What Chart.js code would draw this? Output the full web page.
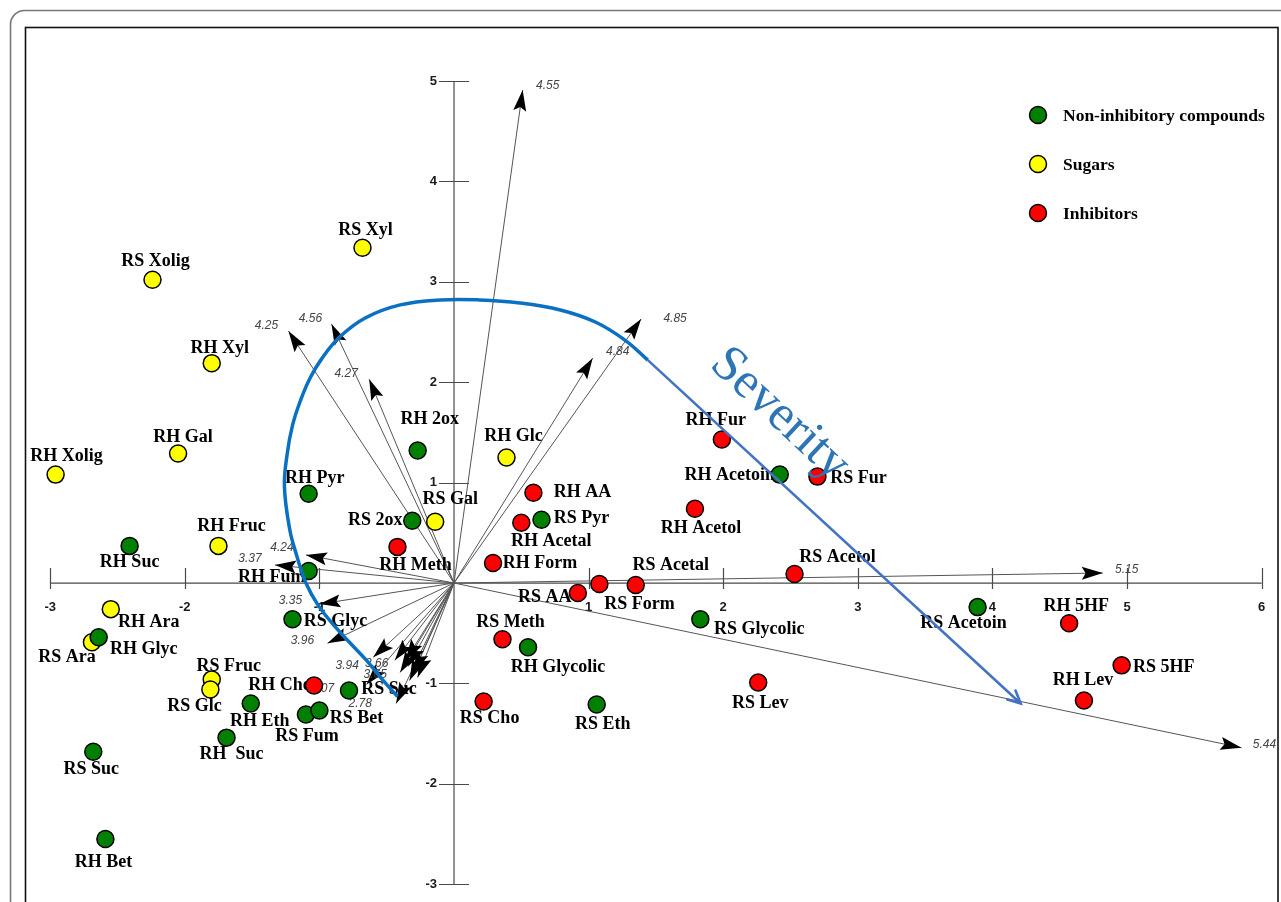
<!DOCTYPE html>
<html>
<head>
<meta charset="utf-8">
<title>PCA biplot – hydrolysate compounds</title>
<script src="https://cdn.jsdelivr.net/npm/chart.js@4.4.1/dist/chart.umd.min.js"></script>
<style>
  html, body { margin: 0; padding: 0; background: #ffffff; }
  canvas { display: block; }
</style>
</head>
<body>
<canvas id="biplot" width="1281" height="902"></canvas>
<script>
// ---- Scores: non-inhibitory compounds ----
const nonInhibNames = ['RH 2ox','RH Pyr','RS 2ox','RH Suc','RH Fum','RS Glyc','RH Glyc','RS Suc','RH Eth','RS Fum',
  'RS Bet','RH  Suc','RS Suc','RH Bet','RH Glycolic','RS Eth','RS Pyr','RH Acetoin','RS Glycolic','RS Acetoin'];
const nonInhibX = [-0.27,-1.08,-0.31,-2.41,-1.08,-1.20,-2.64,-0.78,-1.51,-1.10,
  -1.00,-1.69,-2.68,-2.59,0.55,1.06,0.65,2.42,1.83,3.89];
const nonInhibY = [1.32,0.89,0.62,0.37,0.12,-0.36,-0.54,-1.07,-1.20,-1.31,
  -1.27,-1.54,-1.68,-2.55,-0.64,-1.21,0.63,1.08,-0.36,-0.24];

// ---- Scores: sugars ----
const sugarNames = ['RS Xyl','RS Xolig','RH Xyl','RH Gal','RH Xolig','RH Glc','RS Gal','RH Fruc','RH Ara','RS Ara','RS Fruc','RS Glc'];
const sugarX = [-0.68,-2.24,-1.80,-2.05,-2.96,0.39,-0.14,-1.75,-2.55,-2.69,-1.80,-1.81];
const sugarY = [3.34,3.02,2.19,1.29,1.08,1.25,0.61,0.37,-0.26,-0.59,-0.96,-1.06];

// ---- Scores: inhibitors ----
const inhibNames = ['RH Fur','RS Fur','RH AA','RH Acetal','RH Acetol','RH Meth','RH Form','RS Acetal','RS Form','RS AA',
  'RS Acetol','RS Meth','RH Cho','RS Cho','RS Lev','RH 5HF','RS 5HF','RH Lev'];
const inhibX = [1.99,2.70,0.59,0.50,1.79,-0.42,0.29,1.35,1.08,0.92,2.53,0.36,-1.04,0.22,2.26,4.57,4.96,4.68];
const inhibY = [1.43,1.06,0.90,0.60,0.74,0.36,0.20,-0.02,-0.01,-0.10,0.09,-0.56,-1.02,-1.18,-0.99,-0.40,-0.82,-1.17];

// ---- Loadings (vector tips) and their printed lengths ----
const vectorNames = ['4.55','4.85','4.84','4.25','4.56','4.27','4.24','3.37','3.35','3.96',
  '3.94','3.66','3.65','3.07','2.78','','','','','','5.15','5.44'];
const vectorX = [0.51,1.39,1.03,-1.23,-0.91,-0.63,-1.10,-1.33,-1.00,-0.94,
  -0.60,-0.44,-0.40,-0.65,-0.43,-0.36,-0.34,-0.30,-0.27,-0.33,4.82,5.85];
const vectorY = [4.91,2.63,2.24,2.51,2.58,2.03,0.28,0.18,-0.21,-0.60,
  -0.74,-0.77,-0.89,-1.01,-1.20,-0.77,-0.83,-0.89,-0.94,-0.97,0.10,-1.64];

// ---- Axis ticks ----
const xTicks = [-3,-2,-1,1,2,3,4,5,6];
const yTicks = [-3,-2,-1,1,2,3,4,5];

// ---- "Severity" guide curve, in score units ----
const severityArcX = [-0.42,-0.54,-0.65,-0.77,-0.88,-1.01,-1.10,-1.17,-1.22,-1.26,-1.24,-1.20,-1.14,-1.07,-0.98,
  -0.85,-0.66,-0.40,-0.10,0.19,0.49,0.79,1.05,1.27,1.44];
const severityArcY = [-1.13,-0.95,-0.77,-0.60,-0.44,-0.22,0.00,0.28,0.53,0.96,1.28,1.57,1.82,2.04,2.24,
  2.45,2.64,2.77,2.82,2.82,2.79,2.72,2.60,2.42,2.22];
const severityLineX = [1.44,4.21];
const severityLineY = [2.22,-1.20];

// ---- Label placement (pixel offsets of each text centre from its marker) ----
const nonInhibLabelOffset = [[12,-31],[6,-15],[-37,0],[0,16],[-37,6],[43,2],[45,12],[40,-1],[9,18],[1,22],
  [37,8],[5,17],[-2,18],[-2,23],[30,20],[6,20],[40,-1],[-50,1],[59,10],[-14,16]];
const sugarLabelOffset = [[3,-17],[3,-18],[8,-15],[5,-16],[11,-18],[7,-21],[15,-22],[13,-20],[38,13],[-25,15],[17,-13],[-16,17]];
const inhibLabelOffset = [[-6,-19],[41,2],[49,0],[30,19],[6,20],[18,18],[47,0],[35,-20],[40,20],[-33,4],
  [43,-17],[8,-17],[-34,0],[6,17],[2,21],[7,-17],[42,2],[-1,-20]];
const vectorLabelOffset = [[25,-4],[34,0],[25,-6],[-22,-5],[-21,-5],[-23,-6],[-24,-7],[-25,-6],[-29,-3],[-25,-3],
  [-26,8],[-18,3],[-25,2],[-44,4],[-36,0],[0,0],[0,0],[0,0],[0,0],[0,0],[24,-3],[23,-3]];

const GREEN = '#008000', YELLOW = '#FFFF00', RED = '#FF0000';
const SERIF = '"Liberation Serif", "Times New Roman", serif';
const SANS = '"Liberation Sans", Arial, sans-serif';

const toPts = (xs, ys) => xs.map((x, i) => ({ x, y: ys[i] }));

const groups = [
  { label: 'Non-inhibitory compounds', names: nonInhibNames, xs: nonInhibX, ys: nonInhibY, offs: nonInhibLabelOffset, color: GREEN },
  { label: 'Sugars', names: sugarNames, xs: sugarX, ys: sugarY, offs: sugarLabelOffset, color: YELLOW },
  { label: 'Inhibitors', names: inhibNames, xs: inhibX, ys: inhibY, offs: inhibLabelOffset, color: RED }
];

const datasets = [];
// loading vectors, drawn underneath everything else
vectorX.forEach((vx, i) => {
  datasets.push({
    type: 'line', kind: 'vector', label: vectorNames[i],
    data: [{ x: 0, y: 0 }, { x: vx, y: vectorY[i] }],
    borderColor: '#555555', borderWidth: 1, pointRadius: 0, tension: 0, order: 5
  });
});
// score markers
groups.forEach(g => {
  datasets.push({
    type: 'scatter', kind: 'group', label: g.label,
    data: toPts(g.xs, g.ys),
    backgroundColor: g.color, borderColor: '#000000', borderWidth: 1.5,
    pointRadius: 8.5, pointHoverRadius: 8.5, order: 1
  });
});
// severity guide on top
datasets.push({
  type: 'line', kind: 'arc', label: 'Severity arc',
  data: toPts(severityArcX, severityArcY),
  borderColor: '#0A70C2', borderWidth: 3.5, pointRadius: 0, tension: 0.4, order: 0
});
datasets.push({
  type: 'line', kind: 'severityLine', label: 'Severity',
  data: toPts(severityLineX, severityLineY),
  borderColor: '#4472C4', borderWidth: 2.6, pointRadius: 0, tension: 0, order: 0
});

function filledHead(ctx, x0, y0, x1, y1, len, half) {
  const a = Math.atan2(y1 - y0, x1 - x0), c = Math.cos(a), s = Math.sin(a);
  ctx.beginPath();
  ctx.moveTo(x1, y1);
  ctx.lineTo(x1 - len * c + half * s, y1 - len * s - half * c);
  ctx.lineTo(x1 - len * 0.82 * c, y1 - len * 0.82 * s);
  ctx.lineTo(x1 - len * c - half * s, y1 - len * s + half * c);
  ctx.closePath();
  ctx.fill();
}

let overlayDone = false;
const biplotPlugin = {
  id: 'biplot',
  beforeDatasetsDraw(chart) {
    overlayDone = false;
    const ctx = chart.ctx, xs = chart.scales.x, ys = chart.scales.y;
    ctx.save();
    // card and inner frame
    ctx.strokeStyle = '#777777'; ctx.lineWidth = 1.6;
    ctx.beginPath();
    ctx.moveTo(10.5, 930); ctx.lineTo(10.5, 24);
    ctx.arcTo(10.5, 10.5, 24, 10.5, 14);
    ctx.lineTo(1300, 10.5);
    ctx.stroke();
    ctx.strokeStyle = '#111111'; ctx.lineWidth = 1.6;
    ctx.strokeRect(25.5, 27.5, 1252.5, 900);

    // axes through the origin
    const x0 = xs.getPixelForValue(0), y0 = ys.getPixelForValue(0);
    ctx.strokeStyle = '#4a4a4a'; ctx.lineWidth = 1.2;
    ctx.beginPath();
    ctx.moveTo(xs.getPixelForValue(xTicks[0]), y0);
    ctx.lineTo(xs.getPixelForValue(xTicks[xTicks.length - 1]), y0);
    ctx.moveTo(x0, ys.getPixelForValue(yTicks[yTicks.length - 1]));
    ctx.lineTo(x0, ys.getPixelForValue(yTicks[0]));
    xTicks.forEach(t => {
      const px = Math.round(xs.getPixelForValue(t)) + 0.5;
      ctx.moveTo(px, y0 - 15); ctx.lineTo(px, y0 + 6);
    });
    yTicks.forEach(t => {
      const py = Math.round(ys.getPixelForValue(t)) + 0.5;
      ctx.moveTo(x0 - 15, py); ctx.lineTo(x0 + 15, py);
    });
    ctx.stroke();

    ctx.fillStyle = '#1a1a1a';
    ctx.font = 'bold 13px "Liberation Sans Narrow", ' + SANS;
    ctx.textAlign = 'center'; ctx.textBaseline = 'middle';
    xTicks.forEach(t => ctx.fillText(String(t), xs.getPixelForValue(t), y0 + 24));
    ctx.textAlign = 'right';
    yTicks.forEach(t => ctx.fillText(String(t), x0 - 17, ys.getPixelForValue(t)));
    ctx.restore();
  },
  beforeDatasetDraw(chart, args) {
    const ds = chart.data.datasets[args.index];
    if (ds.kind !== 'group' || overlayDone) return;
    overlayDone = true;
    const ctx = chart.ctx, xs = chart.scales.x, ys = chart.scales.y;
    const x0 = xs.getPixelForValue(0), y0 = ys.getPixelForValue(0);
    ctx.save();
    // arrowheads and lengths of the loading vectors
    ctx.fillStyle = '#000000';
    vectorX.forEach((vx, i) => {
      const px = xs.getPixelForValue(vx), py = ys.getPixelForValue(vectorY[i]);
      filledHead(ctx, x0, y0, px, py, 21, 6.5);
    });
    ctx.fillStyle = '#444444';
    ctx.font = 'italic 12px ' + SANS;
    ctx.textAlign = 'center'; ctx.textBaseline = 'middle';
    vectorX.forEach((vx, i) => {
      if (!vectorNames[i]) return;
      const px = xs.getPixelForValue(vx), py = ys.getPixelForValue(vectorY[i]);
      const o = vectorLabelOffset[i];
      ctx.fillText(vectorNames[i], px + o[0], py + o[1]);
    });
    // compound names
    ctx.fillStyle = '#000000';
    ctx.font = 'bold 18px ' + SERIF;
    groups.forEach(g => {
      g.names.forEach((n, i) => {
        const px = xs.getPixelForValue(g.xs[i]), py = ys.getPixelForValue(g.ys[i]);
        ctx.fillText(n, px + g.offs[i][0], py + g.offs[i][1]);
      });
    });
    ctx.restore();
  },
  afterDatasetsDraw(chart) {
    const ctx = chart.ctx, xs = chart.scales.x, ys = chart.scales.y;
    ctx.save();
    // arrow tip of the severity line
    const ax = xs.getPixelForValue(severityLineX[0]), ay = ys.getPixelForValue(severityLineY[0]);
    const bx = xs.getPixelForValue(severityLineX[1]), by = ys.getPixelForValue(severityLineY[1]);
    const a = Math.atan2(by - ay, bx - ax);
    ctx.strokeStyle = '#4472C4'; ctx.lineWidth = 2.6; ctx.lineCap = 'round';
    ctx.beginPath();
    ctx.moveTo(bx - 14 * Math.cos(a - 0.45), by - 14 * Math.sin(a - 0.45));
    ctx.lineTo(bx, by);
    ctx.lineTo(bx - 14 * Math.cos(a + 0.45), by - 14 * Math.sin(a + 0.45));
    ctx.stroke();

    // "Severity" caption along the guide
    const cx = xs.getPixelForValue(2.42), cy = ys.getPixelForValue(1.68);
    ctx.translate(cx, cy);
    ctx.rotate(43 * Math.PI / 180);
    ctx.fillStyle = '#2E75B6';
    ctx.font = '51px ' + SERIF;
    ctx.textAlign = 'center'; ctx.textBaseline = 'middle';
    ctx.fillText('Severity', 0, 0);
    ctx.restore();

    // legend
    ctx.save();
    const rows = [115, 164, 213];
    groups.forEach((g, i) => {
      ctx.beginPath();
      ctx.arc(1038, rows[i], 8.5, 0, Math.PI * 2);
      ctx.fillStyle = g.color; ctx.fill();
      ctx.lineWidth = 1.5; ctx.strokeStyle = '#000'; ctx.stroke();
      ctx.fillStyle = '#000';
      ctx.font = 'bold 17.5px ' + SERIF;
      ctx.textAlign = 'left'; ctx.textBaseline = 'middle';
      ctx.fillText(g.label, 1063, rows[i] + 1);
    });
    ctx.restore();
  }
};

new Chart(document.getElementById('biplot'), {
  type: 'scatter',
  data: { datasets },
  options: {
    responsive: false,
    animation: false,
    events: [],
    layout: { padding: 0, autoPadding: false },
    scales: {
      x: { type: 'linear', min: -3.373, max: 6.144, display: false },
      y: { type: 'linear', min: -3.177, max: 5.807, display: false }
    },
    plugins: { legend: { display: false }, tooltip: { enabled: false } }
  },
  plugins: [biplotPlugin]
});
</script>
</body>
</html>
